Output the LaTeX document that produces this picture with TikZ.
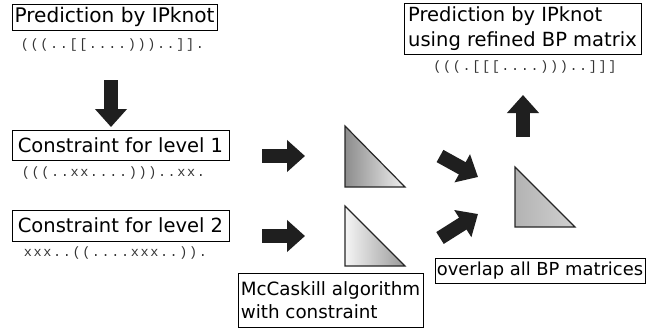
\documentclass[tikz,border=0pt]{standalone}
\usepackage{fontspec}
\setmainfont{DejaVu Sans}
\newfontfamily\seqfont[LetterSpace=12]{Liberation Mono}
\usetikzlibrary{arrows.meta}
\begin{document}
\begin{tikzpicture}[x=1pt,y=-1pt,
  lbl/.style={draw=black,line width=1pt,inner sep=0pt,font=\fontsize{19.5}{25}\selectfont},
  seq/.style={inner sep=0pt,text=black!80,font=\seqfont\fontsize{13.5}{15}\selectfont},
  fat/.style={line width=14pt,draw=black!88,-{Triangle[width=31pt,length=18pt,fill=black!88]}},
  tri/.style={draw=black!85,line width=1.2pt,line join=miter}]
\useasboundingbox (0,0) rectangle (656,330);

\node[lbl,minimum width=205pt,minimum height=26pt,font=\fontsize{20.1}{25}\selectfont] (pred) at (114.5,17) {Prediction by IPknot};
\node[seq] (s1) at (112.5,45) {(((..[[....)))..]].};
\node[lbl,minimum width=217pt,minimum height=30pt] (c1) at (120.5,145) {Constraint for level 1};
\node[seq] (s2) at (113.5,173) {(((..xx....)))..xx.};
\node[lbl,minimum width=217pt,minimum height=31pt] (c2) at (120.5,225.5) {Constraint for level 2};
\node[seq] (s3) at (115.5,253) {xxx..((....xxx..)).};

\node[lbl,minimum width=185pt,minimum height=54pt,align=left,font=\fontsize{18.3}{23.5}\selectfont] (mc) at (330.5,300) {McCaskill algorithm\\with constraint};
\node[lbl,minimum width=210pt,minimum height=25pt,font=\fontsize{17.9}{22}\selectfont] (ov) at (540,270.5) {overlap all BP matrices};
\node[lbl,minimum width=237pt,minimum height=51pt,align=left] (res) at (522.5,28.5) {Prediction by IPknot\\using refined BP matrix};
\node[seq] (s4) at (525,67) {(((.[[[....)))..]]]};

% triangles
\shade[tri,left color=black!45,right color=black!6] (345,126) -- (345,187) -- (405,187) -- cycle;
\shade[tri,shading angle=135,left color=black!4,right color=black!40] (345,206) -- (345,266) -- (405,266) -- cycle;
\shade[tri,shading angle=135,left color=black!30,right color=black!18] (515,167) -- (515,227) -- (575,227) -- cycle;

% arrow coordinates
\coordinate (a0s) at (111,80);  \coordinate (a0e) at (111,127);
\coordinate (a1s) at (262,156); \coordinate (a1e) at (305,156);
\coordinate (a2s) at (262,236); \coordinate (a2e) at (305,236);
\coordinate (a3s) at (440,156); \coordinate (a3e) at (478,177);
\coordinate (a4s) at (440,238); \coordinate (a4e) at (478,214);
\coordinate (a5s) at (523,137); \coordinate (a5e) at (523,95);

\draw[fat] (a0s) -- (a0e);
\draw[fat] (a1s) -- (a1e);
\draw[fat] (a2s) -- (a2e);
\draw[fat] (a3s) -- (a3e);
\draw[fat] (a4s) -- (a4e);
\draw[fat] (a5s) -- (a5e);
\end{tikzpicture}
\end{document}
